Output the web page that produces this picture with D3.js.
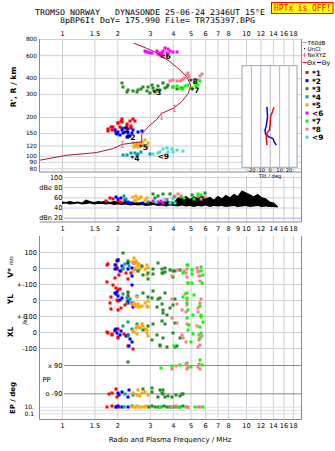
<!DOCTYPE html>
<html><head><meta charset="utf-8">
<script src="https://cdn.jsdelivr.net/npm/d3@7/dist/d3.min.js"></script>
<style>body{margin:0;background:#fff}svg{display:block}</style>
</head><body><svg id="c" width="335" height="451"></svg>
<script>
// ---------------- data ----------------
const freqTicksTop = [1,1.5,2,3,4,5,6,7,8,10,12,14,16,18];
const freqTicksMid = [1,1.5,2,3,4,5,6,7,8,9,10,12,14,16,18];
const heightTicks = [80,90,100,120,150,200,300,400,600,800];
const dbTicks = [20,40,60,80,100];
const tiltTicks = [-20,-10,0,10,20];
const sourceNames = ["*1","*2","*3","*4","*5","<6","*7","*8","<9"];
const legendLines = ["T60dB","UnCl","NeXYZ"];

// profile (NeXYZ) : frequency MHz, height km
const profileF = [2.462,2.886,3.271,3.864,4.378,4.762,5.006,4.858,4.473,4.026,3.482,3.271,2.944,2.712,2.712,2.44,2.119,1.90,1.544,1.06,0.76];
const profileH = [741,678,627,534,460,409,352,304,262,233,213,191,168,147,128,126,122.5,114,106,101,92.6];
const neMarkF = [2.127,3.482,4.077,4.858];
const neMarkH = [122.5,203,233,421];

// tilt inset : height km, tilt deg
const thetaX = [[237,4.5],[219,2.9],[203,1],[178,0.5],[158,-0.3],[152,-2.4],[140,-3.7],[121,-3]];
const thetaY = [[239,-3],[199,-2.3],[171,-3.7],[158,-5],[147,-4.4],[140,-0.9],[136,3.4],[128,4.8],[121,6.9]];

// echoes: [source, freq MHz, virtual height km]
const heightEchoes = [
 [1,2.023,180.5],[1,2.111,183.7],[1,2.342,187],[1,2.493,186],[1,2.066,168],[1,2.247,170],[1,2.371,170],[1,1.785,156.5],[1,1.863,158.5],[1,1.941,158.5],[1,1.771,161],[1,1.847,166],[1,2.023,178.5],[1,2.093,187],[1,2.127,192],[1,2.247,176],[1,2.440,192],[1,1.900,166],[1,2.362,164],
 [2,2.023,153.7],[2,2.111,158.5],[2,2.199,163],[2,2.293,160.5],[2,1.983,147],[2,2.066,145],[2,2.293,149.4],[2,2.392,151],[2,2.598,153.7],[2,2.712,156.5],[2,2.247,139],[2,2.342,142.4],[2,2.154,151],[2,1.941,158.5],[2,1.966,149.4],[2,2.199,153.7],[2,2.293,140.6],[2,2.440,158.5],
 [3,2.111,364],[3,2.154,339],[3,2.293,323],[3,2.440,319],[3,2.598,323],[3,2.766,339],[3,2.886,319],[3,2.944,342],[3,3.072,353],[3,3.135,333],[3,3.338,347],[3,3.552,364],[3,3.629,333],[3,3.782,353],[3,4.026,342],[3,4.203,327],[3,4.473,333],[3,2.547,313],[3,3.007,308],[3,3.202,313],[3,3.410,323],[3,3.707,342],[3,2.247,313],[3,2.70,330],[3,3.30,320],
 [4,2.154,101.6],[4,2.264,101.6],[4,2.362,104.7],[4,2.484,105.2],[4,2.557,101.6],[4,2.688,106.5],[4,3.007,103.4],[4,2.60,104],
 [5,2.440,125],[5,2.493,121.3],[5,2.547,126.4],[5,2.598,119.2],[5,2.712,128.6],[5,2.826,132.6],[5,2.944,126.4],[5,2.886,117.7],[5,2.471,117.7],[5,2.579,116.5],[5,2.654,123.5],[5,2.766,121.3],[5,2.50,119],[5,2.62,121],
 [6,2.826,643],[6,2.944,635],[6,3.072,624],[6,3.271,643],[6,3.338,613],[6,3.482,624],[6,3.552,643],[6,3.707,624],[6,3.864,650],[6,4.026,635],[6,3.629,682],[6,3.782,673],[6,3.410,599],[6,2.851,635],[6,3.007,627],[6,4.203,638],[6,3.40,620],[6,3.55,605],
 [8,3.864,377],[8,3.997,388],[8,4.203,381],[8,4.473,388],[8,4.661,400],[8,4.797,429],[8,4.918,412],[8,5.623,412],[8,5.743,429],[8,5.505,388],[8,4.378,377],[8,4.55,395],
 [7,4.026,339],[7,4.203,345],[7,4.378,335],[7,4.661,345],[7,4.858,355],[7,5.069,335],[7,5.284,366],[7,5.505,355],[7,5.623,377],[7,4.563,330],[7,5.35,345],
 [9,3.135,102.8],[9,3.338,104.7],[9,3.552,113],[9,3.707,114.4],[9,3.782,107.7],[9,3.947,112.4],[9,4.203,111],[9,4.563,109.6],[9,3.410,107.1],[9,4.012,107.1]
];
// source label anchors: [source, freq, height]
const sourceLabels = [[1,2.198,160],[2,2.37,139],[3,3.27,310],[4,2.49,96],[5,2.77,117],[6,3.63,594],[7,5.28,322],[8,5.17,382],[9,3.55,100]];

// amplitude: [source, freq, dB]
const ampEchoes = [
 [1,1.74,53],[1,1.82,58],[1,1.89,56],[1,2.01,53],[1,2.10,51],
 [2,1.97,61],[2,2.01,56],[2,2.19,55],[2,2.28,51],[2,2.38,48],[2,2.76,48],[2,2.10,59],
 [4,2.17,63],[4,2.23,56],[4,2.48,53],[4,2.93,51],[4,3.93,48],
 [5,2.43,60],[5,2.50,53],[5,2.53,63],[5,2.60,57],[5,2.64,58],[5,2.70,61],[5,2.81,55],[5,2.88,59],
 [3,3.13,67],[3,3.19,58],[3,3.32,63],[3,3.54,66],[3,3.84,67],[3,4.05,60],[3,4.45,61],[3,5.10,64],[3,5.96,69],[3,3.70,55],
 [6,3.13,53],[6,3.32,51],[6,3.54,49],[6,3.68,55],[6,3.45,52],
 [9,3.25,51],[9,3.61,55],[9,3.84,49],[9,4.01,56],[9,4.09,48],
 [8,4.09,63],[8,4.27,67],[8,4.45,62],[8,5.47,63],[8,5.72,56],[8,5.96,60],
 [7,5.20,56],[7,5.47,67],[7,5.72,65],[7,4.60,58]
];
// noise (T60dB) band
const noiseF  = [1.00,1.051,1.105,1.162,1.222,1.284,1.350,1.419,1.492,1.569,1.649,1.734,1.823,1.916,2.014,2.118,2.226,2.340,2.461,2.587,2.719,2.859,3.005,3.159,3.321,3.492,3.671,3.859,4.056,4.264,4.483,4.713,4.954,5.208,5.475,5.756,6.051,6.361,6.687,7.030,7.390,7.769,8.167,8.586,9.026,9.489,9.975,10.49,11.02,11.59,12.18,12.81,13.46,14.15,14.88];
const noiseHi = [52,51,53,51,52,50,56,53,51,53,52,54,51,53,52,51,53,50,52,50,51,49,52,50,53,51,54,52,51,60,58,63,57,62,59,64,58,61,56,63,58,65,60,67,63,74,70,66,62,67,60,58,52,50,43];
const noiseLo = [47,48,46,47,48,46,47,48,46,47,47,46,47,45,46,45,46,44,45,44,45,43,44,45,43,44,42,44,43,42,44,42,43,41,43,42,44,41,43,42,43,41,42,43,41,42,43,41,42,43,41,42,41,41,40];

// velocity V* (m/s): [source, freq, value]
const vStar = [
 [1,1.75,19],[1,1.75,-89],[1,1.77,23],[1,1.94,-64],[1,1.96,17],[1,1.98,-8],[1,2.01,50],[1,2.04,-46],[1,2.22,-33],[1,2.29,-67],[1,2.37,-33],[1,2.10,-20],
 [2,1.94,19],[2,1.94,-8],[2,1.98,44],[2,1.99,2],[2,2.02,50],[2,2.07,-19],[2,2.11,12],[2,2.27,33],[2,2.27,-8],[2,2.39,2],[2,2.40,-50],[2,2.47,29],[2,2.39,-106],
 [4,2.14,0],[4,2.15,-8],[4,2.20,23],[4,2.49,-8],[4,2.30,12],
 [5,2.41,37],[5,2.45,29],[5,2.55,33],[5,2.60,12],[5,2.49,2],[5,2.65,-8],[5,2.44,-19],[5,2.58,-19],[5,2.89,17],[5,2.94,2],[5,2.83,-8],[5,2.91,-46],[5,2.46,60],[5,2.52,45],[5,2.62,25],[5,2.70,5],
 [3,2.15,96],[3,2.29,44],[3,2.77,-44],[3,2.92,-67],[3,2.94,-29],[3,3.11,-38],[3,3.13,-8],[3,3.33,29],[3,3.48,-8],[3,3.48,-33],[3,3.55,-33],[3,3.63,2],[3,3.63,-23],[3,3.86,-12],[3,4.02,-17],[3,4.11,-19],[3,4.37,-12],[3,4.02,-54],[3,2.60,-20],[3,2.72,10],
 [8,3.95,-50],[8,4.28,-12],[8,4.71,-33],[8,4.76,-8],[8,4.79,-54],[8,4.83,-96],[8,5.40,2],[8,5.51,-17],[8,5.51,-25],[8,5.58,-50],[8,5.62,-79],[8,5.62,-50],[8,4.60,-20],
 [7,4.52,-29],[7,4.79,19],[7,4.86,19],[7,4.86,-96],[7,5.06,-12],[7,5.09,-38],[7,5.68,-17],[7,5.74,-92],[7,5.86,-44],[7,5.70,5],[7,5.06,-96]
];
// YL (km)
const yLoc = [
 [1,1.89,94],[1,1.96,77],[1,2.02,62],[1,2.07,67],[1,1.85,21],[1,1.98,0],[1,2.02,-6],[1,1.82,-21],[1,2.09,-48],[1,1.85,-54],[1,2.02,-62],[1,2.29,25],[1,2.20,-30],
 [2,1.94,42],[2,1.96,35],[2,2.02,25],[2,2.11,15],[2,2.07,0],[2,2.29,-6],[2,2.29,-21],[2,2.39,-17],[2,2.42,-42],[2,2.00,50],
 [4,2.15,35],[4,2.25,15],[4,2.55,25],[4,2.35,5],
 [5,2.41,-27],[5,2.49,-37],[5,2.49,-31],[5,2.55,21],[5,2.60,-27],[5,2.65,-42],[5,2.71,-37],[5,2.83,-17],[5,2.89,-37],[5,2.92,-42],[5,2.94,-6],[5,2.45,-20],[5,2.58,-45],
 [3,2.25,-21],[3,2.29,46],[3,2.29,52],[3,2.77,42],[3,3.07,10],[3,3.13,56],[3,3.27,-42],[3,3.33,4],[3,3.48,-27],[3,3.55,-62],[3,3.55,-79],[3,3.63,46],[3,3.70,-94],[3,3.86,-48],[3,4.02,-31],[3,4.11,4],[3,2.95,20],[3,3.40,15],
 [8,3.95,4],[8,4.21,-27],[8,4.47,-62],[8,4.66,35],[8,4.71,-73],[8,4.76,0],[8,4.79,-31],[8,5.51,-73],[8,5.51,-48],[8,5.69,4],[8,5.60,-20],
 [7,4.52,21],[7,4.79,46],[7,4.79,10],[7,4.76,-21],[7,4.86,-62],[7,5.13,-94],[7,5.68,-95],[7,5.20,30],[7,5.60,-40]
];
// XL (km)
const xLoc = [
 [1,1.75,2],[1,1.77,-4],[1,1.87,-19],[1,1.87,-15],[1,2.02,17],[1,2.02,-29],[1,2.02,-36],[1,2.18,-15],[1,2.29,-88],[1,2.44,-108],[1,1.95,8],
 [2,1.94,12],[2,1.96,17],[2,2.00,-4],[2,2.07,-19],[2,2.22,-25],[2,2.29,-21],[2,2.34,-46],[2,2.32,-88],[2,2.39,-61],[2,2.10,5],
 [4,2.15,37],[4,2.29,64],[4,2.55,48],[4,2.40,20],
 [5,2.44,6],[5,2.46,2],[5,2.51,27],[5,2.55,33],[5,2.55,-15],[5,2.60,37],[5,2.65,23],[5,2.71,48],[5,2.77,37],[5,2.83,17],[5,2.89,12],[5,2.89,-4],[5,2.94,-25],
 [3,2.29,-25],[3,2.77,12],[3,2.94,37],[3,3.07,-50],[3,3.13,48],[3,3.27,-19],[3,3.41,-81],[3,3.41,-88],[3,3.48,69],[3,3.55,-40],[3,3.63,48],[3,3.70,-92],[3,4.02,-8],[3,4.11,58],[3,4.11,-92],[3,4.21,-88],[3,4.37,-40],
 [8,3.95,89],[8,4.21,58],[8,4.47,-19],[8,4.55,-40],[8,4.71,-60],[8,4.76,48],[8,5.40,37],[8,5.58,-19],[8,5.58,-50],[8,5.62,-81],[8,5.51,-92],[8,5.74,-25],
 [7,4.06,-88],[7,4.79,86],[7,4.91,44],[7,4.86,12],[7,5.13,-12],[7,5.62,29],[7,5.68,96],[7,5.86,64],[7,5.68,-8],[7,5.62,-40],[7,5.00,-60]
];
// polarisation PP (deg)
const polar = [
 [7,3.45,69],[7,3.96,84],[7,4.37,90],[7,4.79,101],[7,5.62,122],[7,5.74,90],[7,5.00,79],
 [8,3.95,63],[8,4.16,84],[8,4.71,96],[8,4.76,63],[8,4.86,79],[8,5.58,96],[8,5.62,63],[8,5.50,80],
 [3,2.29,111],
 [1,1.97,-65],[1,1.87,-90],[1,1.99,-112],[1,1.80,-95],
 [2,2.02,-90],[2,2.32,-69],[2,2.29,-112],[2,2.11,-80],[2,2.05,-100],
 [4,2.20,-94],[4,2.44,-101],
 [5,2.44,-86],[5,2.60,-69],[5,2.71,-90],[5,2.83,-80],[5,2.94,-101],[5,2.55,-100],[5,2.65,-110],
 [3,2.77,-65],[3,3.07,-80],[3,3.33,-112],[3,3.55,-69],[3,3.48,-90],[3,3.77,-107],[3,3.96,-112],[3,4.47,-94],[3,3.10,-58],[3,3.41,-69],[3,3.55,-94],[3,3.63,-112],[3,4.16,-101],[3,4.37,-107],[3,4.55,-94]
];
// EP (deg)
const epVals = [
 [1,1.75,10],[1,1.87,12],[1,1.97,9],[1,2.05,11],
 [2,1.96,10],[2,2.02,13],[2,2.11,9],[2,2.29,11],
 [4,2.18,10],[4,2.40,12],
 [5,2.41,11],[5,2.49,9],[5,2.55,12],[5,2.62,10],[5,2.70,11],[5,2.78,9],[5,2.85,12],[5,2.93,10],
 [3,2.97,10],[3,3.10,12],[3,3.20,9],[3,3.33,11],[3,3.45,10],[3,3.60,12],[3,3.70,9],[3,3.86,10],[3,4.00,8],[3,4.16,11],[3,4.37,10],[3,4.55,12],
 [7,3.41,10],[7,3.90,11],[7,4.30,10],[7,4.71,9],[7,5.30,10],[7,5.86,11],
 [8,3.95,10],[8,4.16,12],[8,4.76,10],[8,4.86,8],[8,5.50,11],[8,5.62,9]
];

// ---------------- drawing ----------------
const palette = ["#ff0000","#0000ff","#228b22","#00a0a0","#ffa500","#ff00ff","#00ff00","#f08080","#40e0d0"];
const F = "DejaVu Sans, Liberation Sans, sans-serif";
const svg = d3.select("#c");
const L = 39.5, R = 301.5;
const x = d3.scaleLog().domain([0.7546, 20.03]).range([L, R]);
const yH = d3.scaleLog().domain([75, 800]).range([172, 39]);
const yDB = d3.scaleLinear().domain([20, 100]).range([217.7, 177]);
const yV = d3.scaleLinear().domain([-100, 100]).range([284, 252]);
const yYL = d3.scaleLinear().domain([-100, 100]).range([316, 284]);
const yXL = d3.scaleLinear().domain([-100, 100]).range([348, 316]);
const yPP = d3.scaleLinear().domain([-90, 90]).range([393.3, 365]);
const yEP = d3.scaleLog().domain([0.1, 10]).range([413.3, 406.7]);
const xT = d3.scaleLinear().domain([-29.5, 29]).range([242, 297]);
const GRID = "#cfcfd6";

function styleAxis(g, lineColor, fs) {
  g.select(".domain").remove();
  g.selectAll(".tick line").attr("stroke", lineColor).attr("stroke-width", 1);
  g.selectAll("text").attr("font-family", F).attr("font-size", fs || 6.6).attr("fill", "#000");
}
const fmt = d => String(d);

// --- title
svg.append("text").attr("x", 35).attr("y", 15).attr("font-family","DejaVu Sans Mono, monospace")
  .attr("font-size", 7.8).attr("textLength", 230).attr("lengthAdjust","spacingAndGlyphs")
  .attr("xml:space","preserve").style("white-space","pre")
  .text("TROMSO NORWAY   DYNASONDE 25-06-24 2346UT 15°E");
svg.append("text").attr("x", 60).attr("y", 22.8).attr("font-family","DejaVu Sans Mono, monospace")
  .attr("font-size", 7.8).attr("textLength", 195).attr("lengthAdjust","spacingAndGlyphs")
  .text("8pBP6It DoY= 175.990 File= TR735397.BPG");
svg.append("rect").attr("x", 271.5).attr("y", 2.5).attr("width", 61.5).attr("height", 11)
  .attr("fill", "#ffff00").attr("stroke", "#ff0000");
svg.append("text").attr("x", 274).attr("y", 11.2).attr("font-family","DejaVu Sans Mono, monospace")
  .attr("font-size", 8.2).attr("fill","#ff0000").attr("textLength", 57).attr("lengthAdjust","spacingAndGlyphs")
  .text("HPTx is OFF!");

// --- top panel grid & axes
svg.append("g").attr("transform","translate(0,39)")
  .call(d3.axisTop(x).tickValues(freqTicksTop).tickFormat(fmt).tickSize(-133).tickPadding(3))
  .call(g => styleAxis(g, GRID));
svg.append("g").attr("transform",`translate(${L},0)`)
  .call(d3.axisLeft(yH).tickValues(heightTicks).tickFormat(fmt).tickSize(-(R-L)).tickPadding(2.5))
  .call(g => styleAxis(g, GRID, 5.8));

// --- dB panel
svg.append("g").attr("transform","translate(0,222)")
  .call(d3.axisBottom(x).tickValues(freqTicksTop).tickFormat("").tickSize(-46))
  .call(g => styleAxis(g, GRID));
svg.append("g").attr("transform","translate(0,222)")
  .call(d3.axisBottom(x).tickValues(freqTicksMid).tickFormat(fmt).tickSize(0).tickPadding(4.5))
  .call(g => styleAxis(g, GRID));
svg.append("g").attr("transform","translate(64,0)")
  .call(d3.axisLeft(yDB).tickValues(dbTicks).tickFormat(d => d === 80 ? "dBe 80" : d === 20 ? "dBn 20" : String(d)).tickSize(-(R-64)).tickPadding(1.5))
  .call(g => { styleAxis(g, GRID); g.selectAll(".tick line").filter(d => d === 20).attr("stroke", "#a8a8e0"); });

// --- lower panel grid & axes
svg.append("g").attr("transform","translate(0,419)")
  .call(d3.axisBottom(x).tickValues(freqTicksTop).tickFormat(fmt).tickSize(-(419-236)).tickPadding(4))
  .call(g => styleAxis(g, GRID));
svg.append("g").attr("transform",`translate(${L},0)`)
  .call(d3.axisLeft(yV).tickValues([100,0,-100]).tickFormat(d => d === -100 ? "+-100" : String(d)).tickSize(-(R-L)).tickPadding(2.5))
  .call(g => styleAxis(g, GRID));
svg.append("g").attr("transform",`translate(${L},0)`)
  .call(d3.axisLeft(yYL).tickValues([0,-100]).tickFormat(d => d === -100 ? "+-100" : String(d)).tickSize(-(R-L)).tickPadding(2.5))
  .call(g => styleAxis(g, GRID));
svg.append("g").attr("transform",`translate(${L},0)`)
  .call(d3.axisLeft(yXL).tickValues([0,-100]).tickFormat(fmt).tickSize(-(R-L)).tickPadding(2.5))
  .call(g => styleAxis(g, GRID));
svg.append("g").attr("transform",`translate(${L},0)`)
  .call(d3.axisLeft(yEP).tickValues([10,1,0.1]).tickFormat(d => d === 10 ? "10." : d === 0.1 ? "0.1" : "").tickSize(-(R-L)).tickPadding(5.5))
  .call(g => styleAxis(g, "#dedee6", 6));
svg.append("g").attr("transform","translate(64,0)")
  .call(d3.axisLeft(yPP).tickValues([90,-90]).tickFormat(d => d > 0 ? "x 90" : "o -90").tickSize(-(R-64)).tickPadding(1.5))
  .call(g => styleAxis(g, "#8a8a8a"));

// --- frames
const frame = svg.append("g").attr("stroke","#8a8a8a").attr("stroke-width",1);
[[L,39,L,172],[R,39,R,222],[L,172,R,172],[L,222,R,222],[L,236,L,419.5],[R,236,R,419.5],[L,419.5,R,419.5]]
  .forEach(s => frame.append("line").attr("x1",s[0]).attr("y1",s[1]).attr("x2",s[2]).attr("y2",s[3]));

// --- noise band
svg.append("path").datum(noiseF.map((f,i) => [f, noiseLo[i], noiseHi[i]]))
  .attr("fill","#000")
  .attr("d", d3.area().x(d => x(d[0])).y0(d => yDB(d[1])).y1(d => yDB(d[2])));

// --- points
function dots(data, yScale) {
  svg.append("g").selectAll("rect").data(data).join("rect")
    .attr("x", d => Math.round(x(d[1])) - 1.5).attr("y", d => Math.round(yScale(d[2])) - 1.5)
    .attr("width", 3).attr("height", 3).attr("fill", d => palette[d[0]-1]);
}
dots(heightEchoes, yH);
dots(ampEchoes, yDB);
dots(vStar, yV);
dots(yLoc, yYL);
dots(xLoc, yXL);
dots(polar, yPP);
dots(epVals, yEP);

// --- profile
svg.append("path").datum(profileF.map((f,i) => [f, profileH[i]]))
  .attr("fill","none").attr("stroke","#a3173f").attr("stroke-width",1)
  .attr("d", d3.line().x(d => x(d[0])).y(d => yH(d[1])));
const ne = svg.append("g").attr("stroke","#ee6f9a").attr("stroke-width",1);
neMarkF.forEach((f,i) => {
  const cx = x(f), cy = yH(neMarkH[i]);
  ne.append("line").attr("x1",cx).attr("x2",cx).attr("y1",cy-3).attr("y2",cy+3);
  ne.append("line").attr("x1",cx-1.5).attr("x2",cx+1.5).attr("y1",cy-3).attr("y2",cy-3);
  ne.append("line").attr("x1",cx-1.5).attr("x2",cx+1.5).attr("y1",cy+3).attr("y2",cy+3);
});

// --- source labels
svg.append("g").selectAll("text").data(sourceLabels).join("text")
  .attr("x", d => x(d[1])).attr("y", d => yH(d[2]) + 3).attr("text-anchor","middle")
  .attr("font-family", F).attr("font-weight","bold").attr("font-size", 7.6).attr("fill","#000")
  .text(d => sourceNames[d[0]-1]);

// --- tilt inset
svg.append("rect").attr("x",242).attr("y",65.7).attr("width",55).attr("height",101.6)
  .attr("fill","#fff").attr("stroke","#a0a0a8");
svg.append("g").attr("transform","translate(0,167.3)")
  .call(d3.axisBottom(xT).tickValues(tiltTicks).tickFormat(fmt).tickSize(-101.6).tickPadding(1))
  .call(g => { styleAxis(g, "#b4b4cc", 5.2); });
svg.append("text").attr("x", 270).attr("y", 177.8).attr("text-anchor","middle")
  .attr("font-family", F).attr("font-size", 5.2).text("Tilt / deg");
const tl = d3.line().x(d => xT(d[1])).y(d => yH(d[0]));
svg.append("path").datum(thetaY).attr("fill","none").attr("stroke","#0000ff").attr("stroke-width",1.5).attr("d", tl);
svg.append("path").datum(thetaX).attr("fill","none").attr("stroke","#ff0000").attr("stroke-width",1.5).attr("d", tl);

// --- legend
const lg = svg.append("g").attr("font-family", F).attr("font-size", 5.6);
lg.append("line").attr("x1",302.5).attr("x2",306.5).attr("y1",42.5).attr("y2",42.5).attr("stroke","#999");
lg.append("text").attr("x",307.5).attr("y",44.6).text(legendLines[0]);
lg.append("rect").attr("x",304).attr("y",48).attr("width",1).attr("height",1).attr("fill","#000");
lg.append("text").attr("x",307.5).attr("y",50.8).text(legendLines[1]);
lg.append("line").attr("x1",302.5).attr("x2",306.5).attr("y1",55).attr("y2",55).attr("stroke","#ee6f9a");
lg.append("line").attr("x1",304.5).attr("x2",304.5).attr("y1",53).attr("y2",57).attr("stroke","#ee6f9a");
lg.append("text").attr("x",307.5).attr("y",57.2).text(legendLines[2]);
lg.append("line").attr("x1",302.5).attr("x2",306.5).attr("y1",62.5).attr("y2",62.5).attr("stroke","#ff0000");
lg.append("text").attr("x",307).attr("y",65.3).attr("font-size",6.4).text("Θx");
lg.append("line").attr("x1",317).attr("x2",321).attr("y1",62.5).attr("y2",62.5).attr("stroke","#0000ff");
lg.append("text").attr("x",321.5).attr("y",65.3).attr("font-size",6.4).text("Θy");
sourceNames.forEach((s,i) => {
  const cy = 72.5 + 8.1*i;
  lg.append("rect").attr("x",305.5).attr("y",cy-1.5).attr("width",3).attr("height",3).attr("fill",palette[i]);
  lg.append("text").attr("x",312).attr("y",cy+3).attr("font-size",7.4).attr("font-weight","bold").text(s);
});

// --- axis titles
const t = svg.append("g").attr("font-family", F).attr("fill","#000");
t.append("text").attr("transform","translate(16,87) rotate(-90)").attr("text-anchor","middle")
  .attr("font-size",7.6).attr("font-weight","bold").text("R', R / km");
t.append("text").attr("transform","translate(13,267) rotate(-90)").attr("text-anchor","middle")
  .attr("font-size",7.6).attr("font-weight","bold").text("V* ").append("tspan").attr("font-size",5).attr("font-weight","normal").text("m/s");
t.append("text").attr("transform","translate(13,299) rotate(-90)").attr("text-anchor","middle")
  .attr("font-size",7.6).attr("font-weight","bold").text("YL");
t.append("text").attr("transform","translate(27,319) rotate(-90)").attr("text-anchor","middle")
  .attr("font-size",6).text("/km");
t.append("text").attr("transform","translate(13,332) rotate(-90)").attr("text-anchor","middle")
  .attr("font-size",7.6).attr("font-weight","bold").text("XL");
t.append("text").attr("x",42.5).attr("y",382).attr("font-size",6.8).text("PP");
t.append("text").attr("transform","translate(15,398) rotate(-90)").attr("text-anchor","middle")
  .attr("font-size",7).attr("font-weight","bold").text("EP / deg");
t.append("text").attr("x",170).attr("y",442).attr("text-anchor","middle")
  .attr("font-size",7).text("Radio and Plasma Frequency / MHz");
</script></body></html>
